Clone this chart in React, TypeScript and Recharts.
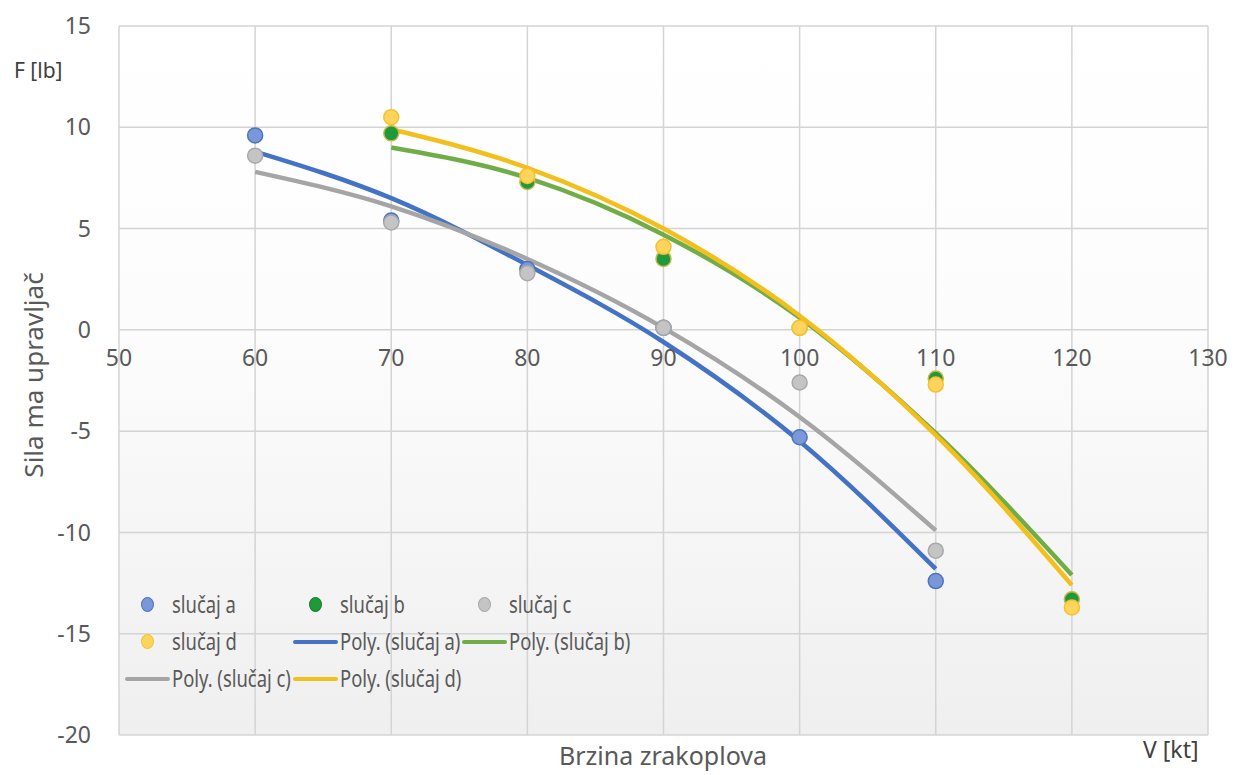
import {
  CartesianGrid,
  ComposedChart,
  Line,
  Scatter,
  XAxis,
  YAxis,
} from 'recharts';

// measured speeds (kt)
const speedsA = [60, 70, 80, 90, 100, 110];
const speedsB = [70, 80, 90, 100, 110, 120];

// measured control forces (lb)
const forceA = [9.6, 5.4, 3.0, 0.1, -5.3, -12.4];
const forceB = [9.7, 7.3, 3.5, 0.1, -2.4, -13.3];
const forceC = [8.6, 5.3, 2.8, 0.1, -2.6, -10.9];
const forceD = [10.5, 7.6, 4.1, 0.1, -2.7, -13.7];

// polynomial trendlines
const trendA = [8.8, 6.5, 3.2, -0.6, -5.5, -11.8];
const trendB = [9.0, 7.5, 4.7, 0.6, -5.1, -12.1];
const trendC = [7.8, 6.1, 3.5, 0.1, -4.3, -9.9];
const trendD = [9.9, 8.0, 5.0, 0.7, -5.2, -12.6];

const xTicks = [50, 60, 70, 80, 90, 100, 110, 120, 130];
const yTicks = [15, 10, 5, 0, -5, -10, -15, -20];

const toPoints = (xs: number[], ys: number[]) => xs.map((x, i) => ({ x, y: ys[i] }));

const W = 1239;
const H = 775;
const TOP = 26;
const BOTTOM = 40;
const PLOT_H = H - TOP - BOTTOM;
const Y_MAX = 15;
const Y_MIN = -20;
// distance from bottom of plot up to the y=0 line
const zeroShift = (PLOT_H * (0 - Y_MIN)) / (Y_MAX - Y_MIN);

const FONT = '"Noto Sans", sans-serif';
const TXT = '#595959';

const XTick = (props: any) => {
  const { x, payload } = props;
  const plotBottom = H - BOTTOM;
  return (
    <text x={x} y={plotBottom - zeroShift + 36} textAnchor="middle" fill={TXT} fontSize={23} fontFamily={FONT}>
      {payload.value}
    </text>
  );
};

type LegendItem = { kind: 'dot' | 'line'; label: string; fill: string; stroke: string };

const legendRows: LegendItem[][] = [
  [
    { kind: 'dot', label: 'slučaj a', fill: '#7a97d9', stroke: '#4f73c0' },
    { kind: 'dot', label: 'slučaj b', fill: '#1e9a3a', stroke: '#1a7d30' },
    { kind: 'dot', label: 'slučaj c', fill: '#c4c4c4', stroke: '#a9a9a9' },
  ],
  [
    { kind: 'dot', label: 'slučaj d', fill: '#ffd45c', stroke: '#f5c12e' },
    { kind: 'line', label: 'Poly. (slučaj a)', fill: '#4472c4', stroke: '#4472c4' },
    { kind: 'line', label: 'Poly. (slučaj b)', fill: '#70ad47', stroke: '#70ad47' },
  ],
  [
    { kind: 'line', label: 'Poly. (slučaj c)', fill: '#a5a5a5', stroke: '#a5a5a5' },
    { kind: 'line', label: 'Poly. (slučaj d)', fill: '#f2bf1c', stroke: '#f2bf1c' },
  ],
];

const colStarts = [0, 168, 337];

const LegendBox = () => (
  <div style={{ position: 'relative', fontFamily: FONT, fontSize: 23, color: TXT, lineHeight: '37px' }}>
    {legendRows.map((row, ri) =>
      row.map((it, ci) => (
        <div
          key={`${ri}-${ci}`}
          style={{ position: 'absolute', left: colStarts[ci], top: ri * 37, height: 37, display: 'flex', alignItems: 'center' }}
        >
          <span style={{ width: 50, flexShrink: 0, display: 'flex', alignItems: 'center', justifyContent: it.kind === 'dot' ? 'center' : 'flex-start' }}>
            {it.kind === 'dot' ? (
              <span
                style={{
                  width: 11,
                  height: 13,
                  borderRadius: '50%',
                  background: it.fill,
                  border: `1px solid ${it.stroke}`,
                }}
              />
            ) : (
              <span style={{ width: 45, height: 4, background: it.fill, marginLeft: 3, borderRadius: 2 }} />
            )}
          </span>
          <span style={{ whiteSpace: 'nowrap', display: 'inline-block', transform: 'scaleX(0.8)', transformOrigin: 'left center' }}>
            {it.label}
          </span>
        </div>
      ))
    )}
  </div>
);

const dot = (fill: string, stroke: string) => (p: any) => (
  <circle cx={p.cx} cy={p.cy} r={7.5} fill={fill} stroke={stroke} strokeWidth={1.5} />
);

export default function App() {
  return (
    <div style={{ position: 'absolute', left: 0, top: 0, width: W, height: H, background: '#fff' }}>
      <ComposedChart width={W} height={H} margin={{ top: TOP, right: 31, bottom: 0, left: 0 }}>
        <defs>
          <linearGradient id="plotBg" x1="0" y1="0" x2="0" y2="1">
            <stop offset="0%" stopColor="#ffffff" />
            <stop offset="45%" stopColor="#fcfcfc" />
            <stop offset="100%" stopColor="#efefef" />
          </linearGradient>
        </defs>
        <CartesianGrid stroke="#d4d4d4" strokeWidth={1.5} fill="url(#plotBg)" horizontal vertical />
        <XAxis
          type="number"
          dataKey="x"
          domain={[50, 130]}
          ticks={xTicks}
          height={BOTTOM}
          axisLine={false}
          tickLine={false}
          tick={<XTick />}
          interval={0}
          allowDataOverflow
        />
        <YAxis
          type="number"
          dataKey="y"
          domain={[Y_MIN, Y_MAX]}
          ticks={yTicks}
          width={119}
          axisLine={false}
          tickLine={false}
          tickMargin={22}
          interval={0}
          tick={{ fill: TXT, fontSize: 23, fontFamily: FONT }}
        />
        <Scatter name="slučaj a" data={toPoints(speedsA, forceA)} fill="#7a97d9" shape={dot('#7a97d9', '#4f73c0')} isAnimationActive={false} />
        <Scatter name="slučaj b" data={toPoints(speedsB, forceB)} fill="#1e9a3a" shape={dot('#1e9a3a', '#c9b64a')} isAnimationActive={false} />
        <Scatter name="slučaj c" data={toPoints(speedsA, forceC)} fill="#c4c4c4" shape={dot('#c4c4c4', '#a9a9a9')} isAnimationActive={false} />
        <Scatter name="slučaj d" data={toPoints(speedsB, forceD)} fill="#ffd45c" shape={dot('#ffd45c', '#f5c12e')} isAnimationActive={false} />
        <Line data={toPoints(speedsA, trendA)} dataKey="y" type="monotone" stroke="#4472c4" strokeWidth={4.5} dot={false} activeDot={false} isAnimationActive={false} />
        <Line data={toPoints(speedsB, trendB)} dataKey="y" type="monotone" stroke="#70ad47" strokeWidth={4.5} dot={false} activeDot={false} isAnimationActive={false} />
        <Line data={toPoints(speedsA, trendC)} dataKey="y" type="monotone" stroke="#a5a5a5" strokeWidth={4.5} dot={false} activeDot={false} isAnimationActive={false} />
        <Line data={toPoints(speedsB, trendD)} dataKey="y" type="monotone" stroke="#f2bf1c" strokeWidth={4.5} dot={false} activeDot={false} isAnimationActive={false} />
      </ComposedChart>
      <div style={{ position: 'absolute', left: 122, top: 586 }}>
        <LegendBox />
      </div>
      <div style={{ position: 'absolute', left: 14, top: 56, fontFamily: FONT, fontSize: 21, color: '#404040' }}>F [lb]</div>
      <div style={{ position: 'absolute', left: 1143, top: 733, fontFamily: FONT, fontSize: 23, color: '#404040' }}>V [kt]</div>
      <div style={{ position: 'absolute', left: 0, width: 1326, top: 738, textAlign: 'center', fontFamily: FONT, fontSize: 25, color: TXT }}>
        Brzina zrakoplova
      </div>
      <div
        style={{
          position: 'absolute',
          left: 33,
          top: 375,
          transform: 'translate(-50%, -50%) rotate(-90deg)',
          whiteSpace: 'nowrap',
          fontFamily: FONT,
          fontSize: 26,
          color: TXT,
        }}
      >
        Sila ma upravljač
      </div>
    </div>
  );
}
